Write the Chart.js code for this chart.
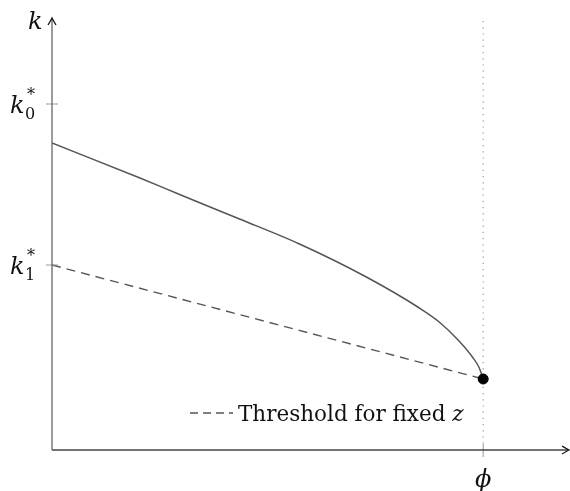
<!DOCTYPE html>
<html>
<head>
<meta charset="utf-8">
<script src="https://cdn.jsdelivr.net/npm/chart.js@4/dist/chart.umd.min.js"></script>
<style>
  html, body { margin: 0; padding: 0; background: #fff; }
  #wrap { width: 570px; height: 491px; }
</style>
</head>
<body>
<div id="wrap"><canvas id="chart" width="570" height="491"></canvas></div>
<script>
// curve k(phi)
const curveX = [0, 0.204, 0.296, 0.435, 0.574, 0.729, 0.852, 0.898, 0.944, 0.975, 0.991, 1.0];
const curveK = [3.07, 2.72, 2.555, 2.31, 2.06, 1.73, 1.42, 1.28, 1.09, 0.93, 0.82, 0.71];

// threshold for fixed z (dashed)
const thresholdX = [0, 1];
const thresholdK = [1.85, 0.71];

// axis marks
const kTicks = [3.46, 1.85];
const kTickSubs = ["0", "1"];
const phiTick = 1;
const xMax = 1.199;
const yMax = 4.32;
const dottedTop = 4.30;

const serif = "'DejaVu Serif', 'Liberation Serif', serif";

const toPts = (xs, ys) => xs.map((x, i) => ({ x, y: ys[i] }));

function arrow(ctx, x, y, dir) {
  // small latex-like arrow head
  ctx.save();
  ctx.translate(x, y);
  ctx.rotate(dir);
  ctx.beginPath();
  ctx.moveTo(-7, -4);
  ctx.quadraticCurveTo(-2, -1, 0, 0);
  ctx.quadraticCurveTo(-2, 1, -7, 4);
  ctx.lineWidth = 1.3;
  ctx.strokeStyle = "#111";
  ctx.stroke();
  ctx.restore();
}

const axesPlugin = {
  id: "axesPlugin",
  afterDatasetsDraw(chart) {
    const { ctx, chartArea, scales } = chart;
    const xs = scales.x, ys = scales.y;
    const x0 = xs.getPixelForValue(0);
    const y0 = ys.getPixelForValue(0);

    ctx.save();
    // tick marks
    ctx.strokeStyle = "#999";
    ctx.lineWidth = 1;
    kTicks.forEach(v => {
      const py = ys.getPixelForValue(v);
      ctx.beginPath();
      ctx.moveTo(x0 - 6, py);
      ctx.lineTo(x0 + 6, py);
      ctx.stroke();
    });
    const px = xs.getPixelForValue(phiTick);
    ctx.beginPath();
    ctx.moveTo(px, y0 - 6);
    ctx.lineTo(px, y0 + 7);
    ctx.stroke();

    // axes
    ctx.strokeStyle = "#444";
    ctx.lineWidth = 1.3;
    ctx.beginPath();
    ctx.moveTo(x0, y0);
    ctx.lineTo(chartArea.right - 1, y0);
    ctx.stroke();
    ctx.strokeStyle = "#666";
    ctx.beginPath();
    ctx.moveTo(x0, y0);
    ctx.lineTo(x0, chartArea.top + 1);
    ctx.stroke();
    arrow(ctx, chartArea.right, y0, 0);
    arrow(ctx, x0, chartArea.top, -Math.PI / 2);

    // labels
    ctx.fillStyle = "#111";
    ctx.textBaseline = "alphabetic";
    ctx.textAlign = "left";
    ctx.font = "italic 24px " + serif;
    ctx.fillText("k", 28, 29);

    kTicks.forEach((v, i) => {
      const py = ys.getPixelForValue(v);
      ctx.font = "italic 24px " + serif;
      ctx.fillText("k", 10, py + 9);
      ctx.font = "16px " + serif;
      ctx.fillText("*", 27, py - 4);
      ctx.fillText(kTickSubs[i], 25, py + 15);
    });

    ctx.font = "italic 24px " + serif;
    ctx.textAlign = "center";
    ctx.fillText("\u03D5", px, y0 + 37);

    // legend
    ctx.strokeStyle = "#555";
    ctx.lineWidth = 1.3;
    ctx.setLineDash([8, 5]);
    ctx.beginPath();
    ctx.moveTo(190, 413);
    ctx.lineTo(233, 413);
    ctx.stroke();
    ctx.setLineDash([]);
    ctx.textAlign = "left";
    ctx.font = "21.5px " + serif;
    const label = "Threshold for fixed ";
    ctx.fillText(label, 238, 421);
    const w = ctx.measureText(label).width;
    ctx.font = "italic 21.5px " + serif;
    ctx.fillText("z", 238 + w, 421);
    ctx.restore();
  }
};

new Chart(document.getElementById("chart"), {
  type: "line",
  data: {
    datasets: [
      {
        label: "dotted",
        data: toPts([phiTick, phiTick], [0, dottedTop]),
        borderColor: "#999",
        borderWidth: 1.2,
        borderDash: [1.2, 5],
        pointRadius: 0,
        order: 3
      },
      {
        label: "k",
        data: toPts(curveX, curveK),
        borderColor: "#555",
        borderWidth: 1.5,
        cubicInterpolationMode: "monotone",
        pointRadius: 0,
        order: 2
      },
      {
        label: "Threshold for fixed z",
        data: toPts(thresholdX, thresholdK),
        borderColor: "#555",
        borderWidth: 1.4,
        borderDash: [9, 6],
        pointRadius: 0,
        order: 1
      },
      {
        label: "end",
        data: toPts([thresholdX[1]], [thresholdK[1]]),
        showLine: false,
        pointRadius: 5,
        pointBackgroundColor: "#000",
        pointBorderColor: "#000",
        order: 0
      }
    ]
  },
  options: {
    responsive: false,
    animation: false,
    events: [],
    layout: { autoPadding: false, padding: { left: 52, right: 1, top: 18, bottom: 41 } },
    plugins: { legend: { display: false }, tooltip: { enabled: false } },
    scales: {
      x: { type: "linear", min: 0, max: xMax, display: false },
      y: { type: "linear", min: 0, max: yMax, display: false }
    }
  },
  plugins: [axesPlugin]
});
</script>
</body>
</html>
